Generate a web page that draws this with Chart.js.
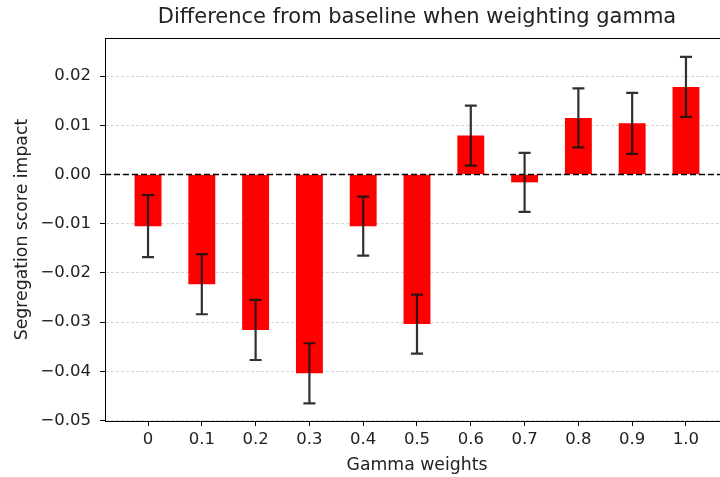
<!DOCTYPE html>
<html>
<head>
<meta charset="utf-8">
<script src="https://cdn.jsdelivr.net/npm/chart.js@4/dist/chart.umd.min.js"></script>
<style>
  html, body { margin: 0; padding: 0; background: #fff; overflow: hidden; width: 720px; height: 477px; }
  #wrap { position: absolute; left: 0; top: 0; width: 720px; height: 477px; overflow: hidden; }
  #gamma-chart { display: block; }
</style>
</head>
<body>
<div id="wrap"><canvas id="gamma-chart" width="740" height="477"></canvas></div>
<script>
var gammaLabels = ['0', '0.1', '0.2', '0.3', '0.4', '0.5', '0.6', '0.7', '0.8', '0.9', '1.0'];
var impact = [-0.0105, -0.0223, -0.0316, -0.0404, -0.0105, -0.0304, 0.0079, -0.0016, 0.0115, 0.0104, 0.0178];
var impactErr = [0.0063, 0.0061, 0.0061, 0.0061, 0.0060, 0.0060, 0.0061, 0.0060, 0.0060, 0.0062, 0.0061];
var yTicks = [-0.05, -0.04, -0.03, -0.02, -0.01, 0, 0.01, 0.02];

Chart.defaults.font.family = 'DejaVu Sans';
Chart.defaults.color = '#222';

// dashed baseline at zero, error bars on top of it, and the top spine
var overlays = {
   id: 'overlays',
   afterDatasetsDraw: function (chart) {
      var ctx = chart.ctx;
      var xs = chart.scales.x;
      var ys = chart.scales.y;
      var area = chart.chartArea;

      ctx.save();
      ctx.beginPath();
      ctx.rect(area.left, area.top, area.right - area.left, area.bottom - area.top);
      ctx.clip();

      var y0 = ys.getPixelForValue(0);
      ctx.strokeStyle = '#000';
      ctx.lineWidth = 1.5;
      ctx.setLineDash([6, 3]);
      ctx.beginPath();
      ctx.moveTo(area.left, y0);
      ctx.lineTo(area.right, y0);
      ctx.stroke();
      ctx.setLineDash([]);

      ctx.strokeStyle = 'rgba(20,20,20,0.88)';
      ctx.lineWidth = 2.2;
      for (var i = 0; i < impact.length; i++) {
         var x = xs.getPixelForValue(i);
         var yLo = ys.getPixelForValue(impact[i] - impactErr[i]);
         var yHi = ys.getPixelForValue(impact[i] + impactErr[i]);
         ctx.beginPath();
         ctx.moveTo(x, yLo);
         ctx.lineTo(x, yHi);
         ctx.moveTo(x - 6, yLo);
         ctx.lineTo(x + 6, yLo);
         ctx.moveTo(x - 6, yHi);
         ctx.lineTo(x + 6, yHi);
         ctx.stroke();
      }
      ctx.restore();

      ctx.save();
      ctx.strokeStyle = '#000';
      ctx.lineWidth = 1;
      ctx.beginPath();
      ctx.moveTo(area.left, Math.round(area.top) + 0.5);
      ctx.lineTo(area.right, Math.round(area.top) + 0.5);
      ctx.stroke();
      ctx.restore();
   }
};

var chart = new Chart(document.getElementById('gamma-chart'), {
   type: 'bar',
   data: {
      datasets: [{
         label: 'Segregation score impact',
         data: impact.map(function (v, i) { return { x: i, y: v }; }),
         backgroundColor: '#ff0000',
         borderWidth: 0,
         barPercentage: 0.5,
         categoryPercentage: 1.0
      }]
   },
   options: {
      responsive: false,
      animation: false,
      layout: { padding: { top: 0, left: 0, right: 11, bottom: 0 } },
      plugins: {
         legend: { display: false },
         tooltip: { enabled: false },
         title: {
            display: true,
            fullSize: false,
            text: 'Difference from baseline when weighting gamma',
            font: { size: 21, weight: 'normal' },
            color: '#222',
            padding: { top: 5, bottom: 7.8 }
         }
      },
      scales: {
         x: {
            type: 'linear',
            min: -0.8,
            max: 10.8,
            offset: false,
            afterBuildTicks: function (axis) {
               axis.ticks = gammaLabels.map(function (l, i) { return { value: i }; });
            },
            afterFit: function (axis) { axis.height = 56; },
            ticks: {
               font: { size: 16.5 },
               padding: 4,
               maxRotation: 0,
               autoSkip: false,
               callback: function (v) { return gammaLabels[v]; }
            },
            grid: { offset: false, drawOnChartArea: false, tickLength: 5, tickColor: '#000', tickWidth: 1 },
            border: { color: '#000', width: 1 },
            title: {
               display: true,
               text: 'Gamma weights',
               font: { size: 17.3 },
               padding: { top: 0, bottom: 1 }
            }
         },
         y: {
            min: -0.0501,
            max: 0.02774,
            afterBuildTicks: function (axis) {
               axis.ticks = yTicks.map(function (v) { return { value: v }; });
            },
            afterFit: function (axis) { axis.width = 105; },
            ticks: {
               font: { size: 16.5 },
               padding: 9,
               callback: function (v) {
                  var s = Math.abs(v).toFixed(2);
                  return (v < -1e-9 ? '\u2212' : '') + s;
               }
            },
            grid: {
               color: '#cccccc',
               lineWidth: 0.8,
               tickLength: 5,
               tickColor: '#000',
               tickWidth: 1
            },
            border: { color: '#000', width: 1, dash: [3, 2] },
            title: {
               display: true,
               text: 'Segregation score impact',
               font: { size: 17.3 },
               padding: { top: 12, bottom: 0 }
            }
         }
      }
   },
   plugins: [overlays]
});
</script>
</body>
</html>
